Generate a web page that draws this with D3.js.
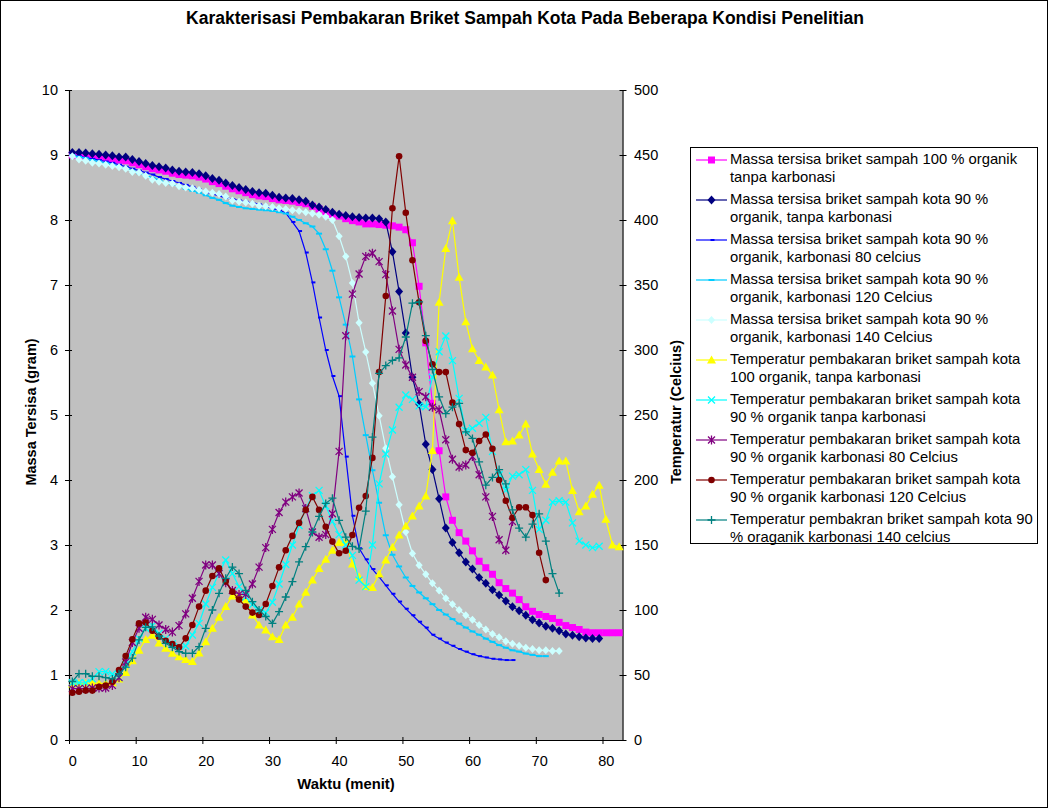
<!DOCTYPE html>
<html>
<head>
<meta charset="utf-8">
<script src="https://cdn.jsdelivr.net/npm/d3@7"></script>
<style>
  body { margin: 0; background: #fff; }
  text { font-family: Arial, "Liberation Sans", sans-serif; fill: #000; }
</style>
</head>
<body>
<div id="chart"></div>
<script>
// menit ke-
var minutes = [0,1,2,3,4,5,6,7,8,9,10,11,12,13,14,15,16,17,18,19,20,21,22,23,24,25,26,27,28,29,
  30,31,32,33,34,35,36,37,38,39,40,41,42,43,44,45,46,47,48,49,50,51,52,53,54,55,56,57,58,59,
  60,61,62,63,64,65,66,67,68,69,70,71,72,73,74,75,76,77,78,79,80,81,82];

// massa tersisa (gram)
var massa100 = [9.0,8.99,8.98,8.97,8.96,8.95,8.94,8.92,8.91,8.88,
  8.85,8.82,8.79,8.77,8.75,8.72,8.70,8.69,8.68,8.66,
  8.63,8.59,8.56,8.52,8.48,8.45,8.42,8.39,8.37,8.36,
  8.33,8.31,8.30,8.29,8.27,8.25,8.21,8.17,8.13,8.09,
  8.06,8.02,7.99,7.97,7.94,7.94,7.93,7.92,7.91,7.89,
  7.85,7.65,6.98,6.11,5.18,4.45,3.74,3.38,3.19,3.06,
  2.91,2.75,2.65,2.55,2.42,2.33,2.26,2.16,2.05,1.98,
  1.93,1.90,1.87,1.81,1.76,1.73,1.70,1.66,1.65,1.65,
  1.65,1.65,1.65];
var massa90 = [9.04,9.04,9.03,9.02,9.01,9.00,8.99,8.97,8.97,8.93,
  8.90,8.87,8.84,8.82,8.80,8.77,8.75,8.74,8.73,8.71,
  8.68,8.64,8.61,8.57,8.53,8.50,8.47,8.44,8.42,8.41,
  8.38,8.35,8.34,8.33,8.31,8.29,8.23,8.20,8.16,8.12,
  8.09,8.07,8.05,8.04,8.03,8.03,8.02,7.97,7.51,6.90,
  6.26,5.58,5.17,4.55,4.16,3.71,3.26,3.04,2.88,2.74,
  2.63,2.50,2.41,2.31,2.23,2.14,2.05,1.99,1.92,1.85,
  1.80,1.75,1.72,1.68,1.63,1.61,1.59,1.57,1.56,1.56];
var massa80 = [9.0,8.98,8.96,8.94,8.92,8.90,8.88,8.85,8.82,8.79,
  8.76,8.73,8.70,8.66,8.63,8.60,8.57,8.54,8.51,8.47,
  8.43,8.40,8.37,8.34,8.32,8.30,8.28,8.26,8.24,8.21,
  8.18,8.15,8.11,7.97,7.83,7.50,7.04,6.50,6.00,5.60,
  5.29,4.36,3.45,2.95,2.78,2.63,2.51,2.38,2.25,2.13,
  2.02,1.92,1.82,1.73,1.62,1.56,1.50,1.45,1.40,1.36,
  1.32,1.29,1.27,1.25,1.24,1.23,1.23];
var massa120 = [9.0,8.97,8.95,8.92,8.90,8.88,8.85,8.82,8.79,8.76,
  8.72,8.69,8.65,8.62,8.58,8.55,8.52,8.48,8.45,8.42,
  8.38,8.34,8.31,8.26,8.22,8.20,8.18,8.17,8.16,8.15,
  8.14,8.12,8.10,8.05,8.00,7.95,7.90,7.79,7.55,7.22,
  6.81,6.39,5.90,5.24,4.69,4.15,3.65,3.15,2.85,2.67,
  2.50,2.37,2.27,2.18,2.09,2.00,1.93,1.86,1.79,1.73,
  1.67,1.62,1.56,1.51,1.46,1.42,1.38,1.36,1.33,1.31,
  1.29,1.29];
var massa140 = [8.98,8.93,8.91,8.88,8.87,8.85,8.83,8.81,8.79,8.74,
  8.73,8.68,8.62,8.59,8.57,8.56,8.52,8.50,8.49,8.46,
  8.44,8.42,8.40,8.36,8.30,8.28,8.27,8.25,8.22,8.21,
  8.20,8.18,8.17,8.15,8.14,8.12,8.10,8.08,8.05,8.00,
  7.75,7.44,7.03,6.42,5.97,5.49,4.99,4.49,4.05,3.62,
  3.20,2.87,2.69,2.55,2.41,2.30,2.18,2.09,2.00,1.92,
  1.85,1.77,1.70,1.63,1.58,1.52,1.48,1.45,1.42,1.40,
  1.38,1.38,1.37,1.37];

// temperatur (Celcius)
var suhu100 = [43,43.5,43.5,44,43.5,43.5,44,47,52,61,
  69,77.4,80.5,74.6,70.5,66.7,64,62,60.3,67,
  75.6,85.9,94.4,102.6,110.8,111.5,107.7,96.2,88.5,84.6,
  79.5,77.4,88.5,94.4,104.6,113.6,123,132,139,146,
  152,152.6,135.4,125.6,118,117.4,127.7,138.5,148.2,157.7,
  164.6,172.3,180,187.7,222.6,336.7,378,399.5,356,321.8,
  301,292,287,280.8,254,229.5,230,234.6,243,220,
  208,196.7,206,214.6,214.6,192,175.6,180,189,196,
  169.8,150,148.7];
var suhu90 = [44,44,44,47,52.6,52.6,50.8,48,58,68,
  78,86,88,82,78,74,72,72.3,80.8,89.7,
  104.6,117.4,128.2,138.5,128,118,110,104,100,98,
  106,120,135,150,165,178,188,192,180,168,
  158,150,142,123,118,150,197,220,238.5,256,
  265.4,262,257,256.4,279,298.7,310.8,291.8,262.8,238,
  239.8,243.6,248.2,222,204,192,203,204,208,192,
  162,169,183,184,183,167,153,150,148,149];
var suhu80 = [39.5,39.5,39.5,40,40,40,42,48,60,75,
  86,94.4,92.8,88.5,85,83,88,97,109,122,
  134.6,134.6,128,121,115,112,112,120,133,148,
  162,175,183,187,190,178,160,156,158,174,
  222,311,343,358.5,372,374.4,368,358,330,300.5,
  288.5,279,268,264,256,254,231,216,210,211.5,
  218,204,187,172,154,146,168];
var suhu120 = [36.4,37.2,38,38,41,41.8,44.9,53.8,64.6,77.4,
  89.7,90.3,84.1,79.5,76.4,73.8,71.3,78.2,88.5,102.6,
  114.9,126.2,132,122,114,108,102.6,98,96.2,104.6,
  118.5,132.8,146,157,167,177,187,177,164,152.6,
  143.6,145.6,157.7,178.7,187.7,217,283,341.5,409,449,
  405.6,369,336.7,307,289,283,283,259.5,243,223,
  221,230,235,224,200,184,171,179,179,173,
  144,123];
var suhu140 = [45,51,51,49,49,48,47,51,56,63,
  77,86.7,87,80,74.4,71.3,68,66.7,66.7,71.8,
  85.9,100,112.8,124.4,133,128,115,106.4,100,95,
  89.7,98.7,110,121.8,137,148.7,160,172,182,186,
  169,156,149,147,176,233,282,288,292,294,
  310,336,337,311,285,264,251,256,259,237,
  232,214,196,202,208,197,177,163,156,166,
  174,153,128,113];

var xTickValues = [0,10,20,30,40,50,60,70,80];
var massaTicks = [0,1,2,3,4,5,6,7,8,9,10];
var suhuTicks = [0,50,100,150,200,250,300,350,400,450,500];

var legendLabels = [
  ["Massa tersisa briket sampah 100 % organik", "tanpa karbonasi"],
  ["Massa tersisa briket sampah kota 90 %", "organik, tanpa karbonasi"],
  ["Massa tersisa briket sampah kota 90 %", "organik, karbonasi 80 celcius"],
  ["Massa tersisa briket sampah kota 90 %", "organik, karbonasi 120 Celcius"],
  ["Massa tersisa briket sampah kota 90 %", "organik, karbonasi 140 Celcius"],
  ["Temperatur pembakaran briket sampah kota", "100 organik, tanpa karbonasi"],
  ["Temperatur pembakaran briket sampah kota", "90 % organik tanpa karbonasi"],
  ["Temperatur pembakaran briket sampah kota", "90 % organik karbonasi 80 Celcius"],
  ["Temperatur pembakaran briket sampah kota", "90 % organik karbonasi 120 Celcius"],
  ["Temperatur pembakran briket sampah kota 90", "% oraganik karbonasi 140 celcius"]
];

var series = [
  { values: massa100, axis: "left",  color: "#FF00FF", marker: "square" },
  { values: massa90,  axis: "left",  color: "#000080", marker: "diamond" },
  { values: massa80,  axis: "left",  color: "#0000FF", marker: "dashS" },
  { values: massa120, axis: "left",  color: "#00CCFF", marker: "dashL" },
  { values: massa140, axis: "left",  color: "#CCFFFF", marker: "diamondS" },
  { values: suhu100,  axis: "right", color: "#FFFF00", marker: "triangle" },
  { values: suhu90,   axis: "right", color: "#00FFFF", marker: "x" },
  { values: suhu80,   axis: "right", color: "#800080", marker: "star" },
  { values: suhu120,  axis: "right", color: "#800000", marker: "circle" },
  { values: suhu140,  axis: "right", color: "#008080", marker: "plus" }
];

var W = 1049, H = 809;
var plot = { left: 69, right: 622.5, top: 90, bottom: 740 };

var svg = d3.select("#chart").append("svg")
  .attr("width", W)
  .attr("height", H);

svg.append("rect")
  .attr("x", 0.5).attr("y", 0.5)
  .attr("width", W - 2).attr("height", H - 2)
  .attr("fill", "#fff").attr("stroke", "#000");

// skala
var x = d3.scaleBand()
  .domain(minutes)
  .range([plot.left, plot.right]);
var xEdge = d3.scaleLinear()
  .domain([0, minutes.length])
  .range([plot.left, plot.right]);
var yLeft = d3.scaleLinear().domain([0, 10]).range([plot.bottom, plot.top]);
var yRight = d3.scaleLinear().domain([0, 500]).range([plot.bottom, plot.top]);

function xPos(i) { return x(minutes[i]) + x.bandwidth() / 2; }

svg.append("rect")
  .attr("x", plot.left).attr("y", plot.top)
  .attr("width", plot.right - plot.left)
  .attr("height", plot.bottom - plot.top)
  .attr("fill", "#C0C0C0");

// sumbu
var gLeft = svg.append("g")
  .attr("transform", "translate(" + plot.left + ",0)")
  .call(d3.axisLeft(yLeft).tickValues(massaTicks).tickSizeOuter(0).tickPadding(5));
var gRight = svg.append("g")
  .attr("transform", "translate(" + plot.right + ",0)")
  .call(d3.axisRight(yRight).tickValues(suhuTicks).tickSizeOuter(0).tickPadding(5.5));
var gBottom = svg.append("g")
  .attr("transform", "translate(0," + plot.bottom + ")")
  .call(d3.axisBottom(xEdge).tickValues(xTickValues).tickSizeOuter(0).tickPadding(9.5));

[gLeft, gRight, gBottom].forEach(function (g) {
  g.select(".domain").attr("stroke", "#000").attr("stroke-width", 1.2);
  g.selectAll(".tick text").style("font-size", "14.5px").attr("fill", "#000");
});
gLeft.selectAll(".tick line").attr("x1", 3).attr("x2", -4).attr("stroke", "#000");
gRight.selectAll(".tick line").attr("x1", -3).attr("x2", 4).attr("stroke", "#000");
gBottom.selectAll(".tick line").attr("y1", -3).attr("y2", 4).attr("stroke", "#000");
gBottom.selectAll(".tick text").attr("x", x.bandwidth() / 2);

// penanda
function markerPath(type) {
  switch (type) {
    case "square": return "M-3.5,-3.5h7v7h-7z";
    case "diamond": return "M0,-4.5L4,0L0,4.5L-4,0z";
    case "diamondS": return "M0,-4L3.6,0L0,4L-3.6,0z";
    case "triangle": return "M0,-4.5L4.5,3.5L-4.5,3.5z";
    case "circle": return d3.symbol(d3.symbolCircle, 34)();
    case "dashS": return "M-1,-1h4v2h-4z";
    case "dashL": return "M-3,-1h6v2h-6z";
    case "x": return "M-3.5,-3.5L3.5,3.5M-3.5,3.5L3.5,-3.5";
    case "star": return "M-3.5,-3.5L3.5,3.5M-3.5,3.5L3.5,-3.5M0,-4.5V4.5";
    case "plus": return "M-4,0H4M0,-4V4";
  }
}
var strokeMarkers = { x: true, star: true, plus: true };

function drawMarker(g, type, color, cx, cy) {
  var p = g.append("path")
    .attr("d", markerPath(type))
    .attr("transform", "translate(" + cx + "," + cy + ")");
  if (strokeMarkers[type]) {
    p.attr("fill", "none").attr("stroke", color).attr("stroke-width", 1.3);
  } else {
    p.attr("fill", color).attr("stroke", "none");
  }
}

var gSeries = svg.append("g");
series.forEach(function (s) {
  var yScale = s.axis === "left" ? yLeft : yRight;
  var line = d3.line()
    .x(function (d, i) { return xPos(i); })
    .y(function (d) { return yScale(d); });
  var g = gSeries.append("g");
  g.append("path")
    .datum(s.values)
    .attr("d", line)
    .attr("fill", "none")
    .attr("stroke", s.color)
    .attr("stroke-width", 1.2);
  s.values.forEach(function (v, i) {
    drawMarker(g, s.marker, s.color, xPos(i), yScale(v));
  });
});

// judul
svg.append("text")
  .attr("x", 525).attr("y", 24)
  .attr("text-anchor", "middle")
  .style("font-size", "17.5px").style("font-weight", "bold")
  .text("Karakterisasi Pembakaran Briket Sampah Kota Pada Beberapa Kondisi Penelitian");

svg.append("text")
  .attr("x", 346).attr("y", 789)
  .attr("text-anchor", "middle")
  .style("font-size", "14.8px").style("font-weight", "bold")
  .text("Waktu (menit)");

svg.append("text")
  .attr("transform", "translate(36,412) rotate(-90)")
  .attr("text-anchor", "middle")
  .style("font-size", "14.5px").style("font-weight", "bold")
  .text("Massa Tersisa (gram)");

svg.append("text")
  .attr("transform", "translate(681,412) rotate(-90)")
  .attr("text-anchor", "middle")
  .style("font-size", "14.5px").style("font-weight", "bold")
  .text("Temperatur (Celcius)");

// legenda
var lg = svg.append("g");
lg.append("rect")
  .attr("x", 690.5).attr("y", 147.5)
  .attr("width", 347).attr("height", 396)
  .attr("fill", "#fff").attr("stroke", "#000");

series.forEach(function (s, k) {
  var y0 = 160 + 40 * k;
  var item = lg.append("g");
  item.append("line")
    .attr("x1", 696).attr("x2", 727)
    .attr("y1", y0).attr("y2", y0)
    .attr("stroke", s.color).attr("stroke-width", 1.2);
  drawMarker(item, s.marker, s.color, 711.5, y0);
  legendLabels[k].forEach(function (t, j) {
    item.append("text")
      .attr("x", 730).attr("y", y0 + 3.5 + j * 18.4)
      .style("font-size", "14.8px")
      .text(t);
  });
});
</script>
</body>
</html>
